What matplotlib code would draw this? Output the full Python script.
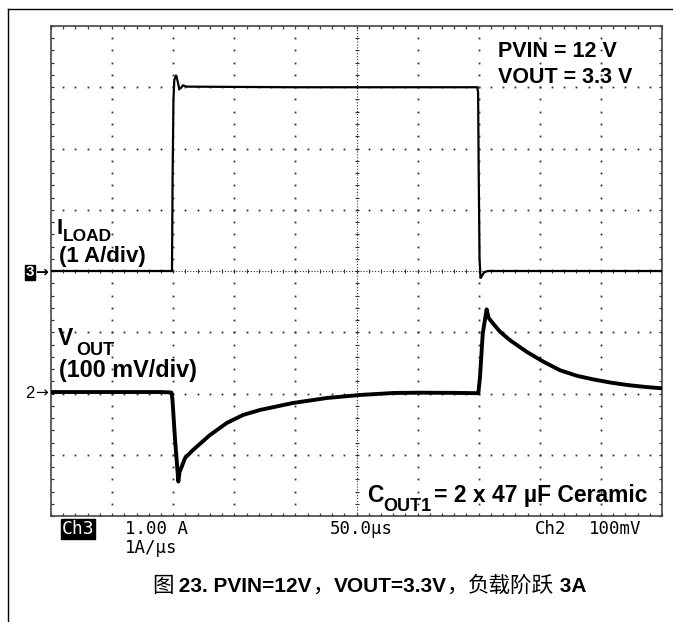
import numpy as np
import matplotlib
matplotlib.use("Agg")
import matplotlib.pyplot as plt
from matplotlib.lines import Line2D

W, H = 673, 622

# Load current trace (A), time in microseconds
t_iload = [0, 99.0, 99.5, 100.2, 100.9, 102.4, 103.6, 105.0, 106.4, 108.0, 111.0,
           200.0, 300.0, 348.8, 349.5, 350.0, 350.7, 351.5, 352.6, 354.5, 357.5, 500.0]
i_load = [0, 0, 1.5, 2.8, 3.12, 3.2, 3.1, 2.97, 2.99, 3.03, 3.01,
          3.0, 3.0, 3.0, 2.92, 1.6, 0.2, -0.12, -0.08, -0.02, 0, 0]

# Output voltage deviation trace (mV), time in microseconds
t_vout = [0, 89.2, 95.7, 98.6, 99.4, 101.5, 104.2, 105.2, 107.0, 109.7, 116.2,
          130.1, 143.8, 157.1, 171.0, 198.0, 225.9, 252.9, 279.9, 302.0, 330.0,
          349.7, 351.1, 353.3, 356.5, 358.0, 360.6, 367.4, 375.6, 389.3, 402.9,
          416.5, 430.2, 443.8, 457.4, 471.1, 485.0, 500.0]
v_out = [2.4, 2.4, 2.0, 1.5, -10, -75, -143.7, -128, -119.5, -105.3, -92.2,
         -67.8, -48.2, -35.1, -26.9, -15.5, -7.3, -2.4, 0.8, 1.3, 1.0,
         0.5, 27.5, 98.0, 137.4, 124.0, 117.0, 101.0, 87.0, 68.0, 52.0,
         38.0, 29.0, 23.0, 18.0, 14.0, 11.0, 8.4]

# Channel reference levels (divisions from bottom) and scales
ILOAD_REF, ILOAD_PER_DIV = 4.0, 1.0     # 1 A/div
VOUT_REF, VOUT_PER_DIV = 2.0, 100.0     # 100 mV/div

fig = plt.figure(figsize=(W / 100, H / 100), dpi=100)
fig.patch.set_facecolor("white")


def fx(x):
    return x / W


def fy(y):
    return 1 - y / H


ax = fig.add_axes([fx(51), fy(516), (662 - 51) / W, (516 - 26) / H])
ax.set_xlim(0, 500)
ax.set_ylim(0, 8)

gray = "#333333"
# graticule dots
for k in range(1, 10):
    if k == 5:
        continue
    ys = np.arange(1, 40) * 0.2
    ax.plot(np.full_like(ys, k * 50.0), ys, ls="none", marker="s", ms=1.3,
            mec="none", mfc=gray, zorder=1)
for j in range(1, 8):
    if j == 4:
        continue
    xs = np.arange(1, 50) * 10.0
    ax.plot(xs, np.full_like(xs, float(j)), ls="none", marker="s", ms=1.3,
            mec="none", mfc=gray, zorder=1)

# center cross-hair lines with tick marks
ax.axvline(250, color=gray, lw=0.8, ls=(0, (1, 1.6)), zorder=1)
ax.axhline(4, color=gray, lw=0.8, ls=(0, (1, 1.6)), zorder=1)
ys = np.arange(1, 40) * 0.2
ax.plot(np.full_like(ys, 250.0), ys, ls="none", marker="_", ms=3.5, mew=0.8,
        color=gray, zorder=1)
xs = np.arange(1, 50) * 10.0
ax.plot(xs, np.full_like(xs, 4.0), ls="none", marker="|", ms=3.5, mew=0.8,
        color=gray, zorder=1)

# border ticks
ax.set_xticks(np.arange(0, 501, 50))
ax.set_yticks(np.arange(0, 9, 1))
ax.set_xticks(np.arange(0, 501, 10), minor=True)
ax.set_yticks(np.arange(0, 8.01, 0.2), minor=True)
ax.tick_params(which="both", direction="in", length=2.5, width=0.9, color=gray,
               top=True, right=True, labelbottom=False, labelleft=False)
for s in ax.spines.values():
    s.set_color("#444444")
    s.set_linewidth(1.2)

# traces
ax.plot(t_iload, ILOAD_REF + np.array(i_load) / ILOAD_PER_DIV,
        color="black", lw=1.6, zorder=3, solid_joinstyle="miter")
ax.plot(t_vout, VOUT_REF + np.array(v_out) / VOUT_PER_DIV,
        color="black", lw=2.8, zorder=3)

# annotations inside the screen
bold = dict(family="Liberation Sans", weight="bold", color="black")
fig.text(fx(498), fy(57), "PVIN = 12 V", fontsize=15.5, va="baseline", **bold)
fig.text(fx(498), fy(83), "VOUT = 3.3 V", fontsize=15.5, va="baseline", **bold)

fig.text(fx(57), fy(234), "I", fontsize=16, va="baseline", **bold)
fig.text(fx(63), fy(241), "LOAD", fontsize=12.5, va="baseline", **bold)
fig.text(fx(59), fy(262), "(1 A/div)", fontsize=16, va="baseline", **bold)

fig.text(fx(58), fy(345), "V", fontsize=16.5, va="baseline", **bold)
fig.text(fx(76), fy(355), "OUT", fontsize=13, va="baseline", **bold)
fig.text(fx(59), fy(377), "(100 mV/div)", fontsize=16.8, va="baseline", **bold)

fig.text(fx(367), fy(502), "C", fontsize=16.5, va="baseline", **bold)
fig.text(fx(383), fy(511), "OUT1", fontsize=13, va="baseline", **bold)
fig.text(fx(434), fy(502), "= 2 x 47 \u00b5F Ceramic", fontsize=16.5,
         va="baseline", **bold)

# channel markers
fig.text(fx(30), fy(272.5), "3", fontsize=11, ha="center", va="center",
         family="Liberation Sans", weight="bold", color="white",
         bbox=dict(boxstyle="square,pad=0.06", fc="black", ec="black"))
fig.text(fx(35), fy(271.5), "\u2192", fontsize=11, ha="left", va="center",
         family="DejaVu Sans", weight="bold", color="black")
fig.text(fx(30), fy(394), "2", fontsize=12, ha="center", va="center",
         family="Liberation Sans", color="black")
fig.text(fx(35), fy(393), "\u2192", fontsize=11, ha="left", va="center",
         family="DejaVu Sans", color="black")

# readout line under the screen
mono = dict(family="DejaVu Sans Mono", fontsize=12.5, va="baseline", color="black")
fig.text(fx(62), fy(534), "Ch3", color="white",
         family="DejaVu Sans Mono", fontsize=13, va="baseline",
         bbox=dict(boxstyle="square,pad=0.04", fc="black", ec="black"))
fig.text(fx(125), fy(534), "1.00 A", **mono)
fig.text(fx(125), fy(553), "1A/\u00b5s", **mono)
fig.text(fx(330), fy(534), "50.0\u00b5s", **mono)
fig.text(fx(535), fy(534), "Ch2", **mono)
fig.text(fx(589), fy(534), "100mV", **mono)

# caption, set piece by piece on a common baseline
cap_bold = dict(family="Liberation Sans", weight="bold", fontsize=15,
                color="black", va="baseline")
cap_cjk = dict(family="Noto Sans CJK SC", fontsize=15.5, color="black",
               va="baseline")
parts = [("图", cap_cjk), (" 23. PVIN=12V", cap_bold), ("，", cap_cjk),
         ("VOUT=3.3V", cap_bold), ("，", cap_cjk), ("负载阶跃", cap_cjk),
         (" 3A", cap_bold)]
renderer = fig.canvas.get_renderer()
x_cur = 152.0
for s, kw in parts:
    t = fig.text(fx(x_cur), fy(592), s, **kw)
    x_cur = t.get_window_extent(renderer).x1

# outer frame lines
fig.add_artist(Line2D([fx(8), 1.0], [fy(9), fy(9)], color="black", lw=1.0))
fig.add_artist(Line2D([fx(8), fx(8)], [fy(9), 0.0], color="black", lw=1.0))

fig.savefig("out.png", dpi=100, facecolor="white")
